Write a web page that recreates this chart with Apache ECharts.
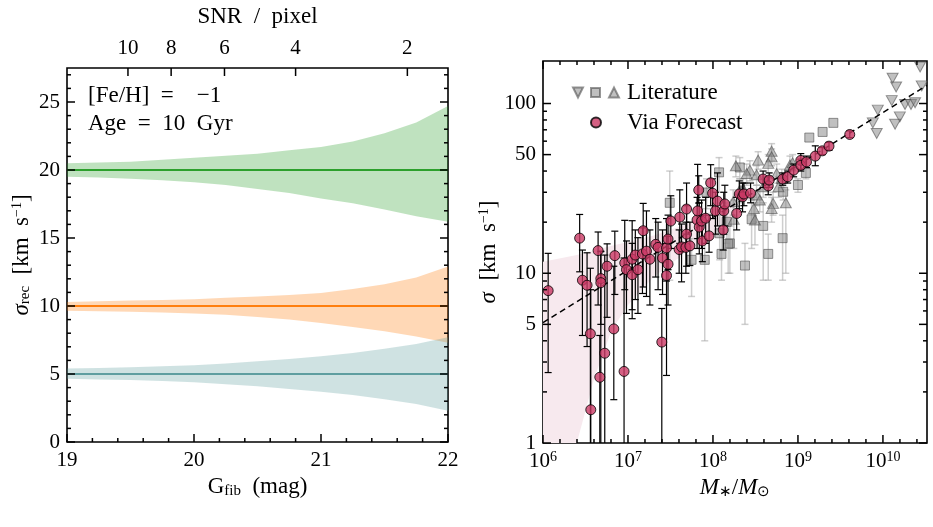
<!DOCTYPE html>
<html>
<head>
<meta charset="utf-8">
<script src="https://cdn.jsdelivr.net/npm/echarts@6/dist/echarts.min.js"></script>
<style>
  html, body { margin: 0; padding: 0; background: #fff; }
  #chart { width: 933px; height: 527px; }
</style>
</head>
<body>
<div id="chart"></div>
<script>
  // ---- left panel: recovered dispersion vs fibre magnitude ----
  var gMag = [19, 19.25, 19.5, 19.75, 20, 20.25, 20.5, 20.75, 21, 21.25, 21.5, 21.75, 22];
  var greenUpper = [20.5, 20.55, 20.6, 20.75, 20.9, 21.05, 21.2, 21.45, 21.7, 22.1, 22.7, 23.5, 24.7];
  var greenLower = [19.5, 19.45, 19.35, 19.25, 19.1, 18.9, 18.6, 18.3, 17.9, 17.55, 17.1, 16.6, 16.2];
  var orangeUpper = [10.3, 10.35, 10.4, 10.45, 10.5, 10.6, 10.7, 10.8, 10.95, 11.25, 11.6, 12.1, 12.9];
  var orangeLower = [9.65, 9.62, 9.58, 9.52, 9.45, 9.35, 9.2, 9.0, 8.75, 8.45, 8.15, 7.75, 7.3];
  var tealUpper = [5.4, 5.45, 5.5, 5.57, 5.65, 5.78, 5.93, 6.1, 6.3, 6.55, 6.85, 7.2, 7.7];
  var tealLower = [4.65, 4.6, 4.55, 4.48, 4.4, 4.25, 4.1, 3.9, 3.7, 3.45, 3.15, 2.8, 2.3];
  var trueSigma = [20, 10, 5];
  var G_MIN = 19, G_MAX = 22, REC_MIN = 0, REC_MAX = 27.5;
  var gTicks = [19, 20, 21, 22];
  var recTicks = [0, 5, 10, 15, 20, 25];
  var snrTicks = [10, 8, 6, 4, 2];
  var snrTickMag = [19.48, 19.82, 20.24, 20.80, 21.68];

  // ---- right panel: sigma vs stellar mass ----
  var massTickExp = [6, 7, 8, 9, 10];
  var sigmaTicks = [1, 5, 10, 50, 100];
  var sigmaMinor = [2, 3, 4, 6, 7, 8, 9, 20, 30, 40, 60, 70, 80, 90];
  var X_MIN = 1e6, X_MAX = 3.3e10, Y_MIN = 1, Y_MAX = 178;

  var fitMass = [1e6, 3.3e10];
  var fitSigma = [5.12, 128];

  var pinkMass = [1e6, 2.5e6, 4e6, 6.4e6, 1e7, 2e7, 5e7, 1e8, 1.7e8];
  var pinkLow = [0.3, 1.0, 2.4, 4.6, 6.5, 9.5, 13.5, 17, 21];
  var pinkHigh = [11.7, 12.8, 13.6, 14.5, 15.3, 16.7, 19.5, 23.5, 26];

  // [mass, sigma, low, high]
  var litDown = [
    [2.74e10, 164, 164, 164], [1.3e10, 141, 141, 141], [1.43e10, 125, 125, 125], [2.86e10, 127, 127, 127],
    [1.27e10, 104, 104, 104], [1.82e10, 98.6, 98.6, 98.6], [2.14e10, 98.6, 98.6, 98.6], [2.39e10, 101, 101, 101],
    [8.7e9, 91.4, 91.4, 91.4], [1.58e10, 83.4, 83.4, 83.4], [1.39e10, 75.5, 75.5, 75.5], [7.6e9, 76.9, 76.9, 76.9],
    [8.45e9, 66.6, 66.6, 66.6]
  ];
  var litSquare = [
    [2.61e9, 76.9, 76.9, 76.9], [1.95e9, 68, 68, 68], [1.36e9, 63, 63, 63], [1.24e9, 39, 36, 42],
    [1.0e9, 33.1, 30, 36], [6.7e8, 30.2, 27, 33], [1.18e8, 39.3, 30, 48], [2.07e8, 42, 36, 48],
    [8.4e7, 29.9, 24, 36], [2.85e8, 20.8, 14, 27], [3.9e8, 19.0, 9.1, 26], [6.6e8, 16.1, 9.1, 22],
    [4.47e8, 13.0, 9.1, 17], [2.38e8, 11.1, 5.0, 15], [1.26e8, 13.0, 9.1, 17], [1.58e8, 15.0, 10, 19],
    [1.2e8, 17.2, 12, 22], [5.6e7, 12.0, 7.3, 16], [8.0e7, 12.0, 4.0, 16], [1.51e8, 14.9, 10, 19],
    [3.1e7, 26, 9.1, 40], [1.45e8, 20.1, 15, 26]
  ];
  var litUp = [
    [4.9e8, 52.4, 46, 58], [4.9e8, 48.5, 43, 54], [3.4e8, 46.4, 41, 52], [4.47e8, 44.4, 39, 50],
    [1.86e8, 43, 37, 49], [2.72e8, 40.5, 35, 46], [2.49e8, 38.7, 33, 44], [3.26e8, 38, 33, 43],
    [5.62e8, 38.7, 34, 44], [6.46e8, 36.2, 32, 41], [8.05e8, 43.4, 38, 49], [3.9e8, 32.3, 28, 37],
    [5.9e8, 32.3, 28, 37], [3.26e8, 28.9, 25, 33], [3.56e8, 27.0, 23, 31], [5.1e8, 25.8, 22, 30],
    [7.2e8, 26, 10, 31], [4.9e8, 24.1, 20, 28], [3.12e8, 20.6, 14.7, 26], [1.73e8, 26.4, 22, 31],
    [2.07e8, 30.9, 26, 36], [8.65e8, 44.8, 40, 50], [2.26e8, 31.6, 27, 36], [3.03e8, 24.1, 20, 28],
    [1.76e8, 20.8, 14, 27]
  ];
  var forecast = [
    [1.15e6, 7.9, 2.6, 13.1], [2.70e6, 16.1, 10.2, 22.2], [2.91e6, 9.1, 4.3, 13.7], [3.30e6, 8.5, 3.7, 13.2],
    [3.61e6, 4.4, 0.5, 10.7], [3.65e6, 1.57, 0.5, 8.0], [4.45e6, 13.6, 6.5, 17.5], [4.66e6, 2.44, 0.5, 4.3],
    [4.79e6, 9.3, 5.0, 13.5], [4.79e6, 8.8, 0.5, 13.4], [5.33e6, 3.38, 0.5, 12.8], [5.68e6, 11.0, 5.5, 14.9],
    [6.81e6, 4.7, 1.8, 11.0], [7.0e6, 12.7, 7.5, 17.7], [8.99e6, 2.64, 0.5, 12.3], [9.16e6, 11.5, 8.0, 20.5],
    [9.6e6, 10.5, 5.8, 15.5], [1.12e7, 12.1, 6.1, 20.4], [1.12e7, 9.8, 5.4, 15.0], [1.22e7, 12.8, 7.0, 18.0],
    [1.31e7, 10.5, 5.8, 16.2], [1.48e7, 13.0, 7.6, 18.5], [1.51e7, 17.8, 8.3, 25.8], [1.65e7, 13.5, 7.3, 23.3],
    [1.81e7, 12.1, 6.5, 18.0], [2.12e7, 14.8, 9.5, 21.0], [2.26e7, 14.2, 8.0, 20.0], [2.5e7, 3.93, 0.5, 6.2],
    [2.55e7, 12.3, 7.5, 18.0], [2.84e7, 14.1, 9.0, 21.0], [2.84e7, 9.7, 2.5, 15.0], [2.96e7, 15.9, 10.5, 22.0],
    [2.96e7, 11.3, 6.5, 16.5], [3.19e7, 20.3, 14.0, 28.6], [4.0e7, 13.8, 10.0, 18.0], [4.07e7, 21.4, 15.0, 31.0],
    [4.27e7, 14.3, 8.9, 19.5], [4.8e7, 14.2, 10.0, 20.0], [4.89e7, 23.9, 17.0, 34.0], [4.89e7, 17.0, 11.0, 25.0],
    [5.35e7, 14.5, 11.1, 20.0], [6.5e7, 20.6, 14.0, 28.0], [6.6e7, 23.3, 16.0, 43.8], [6.8e7, 30.9, 25.9, 37.5],
    [6.9e7, 18.7, 13.0, 26.0], [7.35e7, 20.3, 14.0, 27.0], [7.5e7, 15.5, 11.7, 22.0], [8.2e7, 21.1, 15.0, 28.0],
    [9.0e7, 16.6, 13.3, 22.0], [9.4e7, 34.1, 25.0, 43.6], [9.9e7, 29.6, 21.0, 36.0], [1.07e8, 23.3, 17.0, 30.0],
    [1.13e8, 26.6, 19.0, 39.0], [1.32e8, 18.0, 13.7, 24.0], [1.34e8, 23.3, 17.0, 30.0], [1.38e8, 25.6, 19.0, 33.0],
    [1.9e8, 22.5, 18.0, 28.0], [2.04e8, 29.3, 24.0, 35.0], [2.23e8, 28.2, 23.0, 34.0], [2.31e8, 29.3, 25.0, 34.0],
    [2.77e8, 29.6, 26.0, 34.0], [3.89e8, 35.9, 32.0, 40.0], [4.47e8, 32.7, 29.0, 37.0], [4.59e8, 35.4, 32.0, 39.0],
    [6.6e8, 35.9, 33.0, 39.0], [7.57e8, 37.0, 34.0, 40.0], [8.9e8, 40.5, 37.0, 44.0], [1.08e9, 46.2, 41.0, 50.7],
    [1.08e9, 43.2, 40.0, 47.0], [1.26e9, 45.3, 42.0, 49.0], [1.6e9, 49.0, 43.0, 56.3], [1.93e9, 52.6, 50.0, 55.0],
    [2.32e9, 56.1, 53.0, 59.0], [4.07e9, 65.7, 63.0, 69.0]
  ];

  var FONT = 'Liberation Serif';
  var FS = 21;      // tick numbers
  var FT = 23;      // words: titles, legend, notes
  var richText = {
    i: { fontFamily: FONT, fontSize: FT, fontStyle: 'italic', color: '#000' },
    n: { fontFamily: FONT, fontSize: FT, color: '#000' },
    t: { fontFamily: FONT, fontSize: FS, color: '#000' },
    sub: { fontFamily: FONT, fontSize: 15, verticalAlign: 'bottom', color: '#000', padding: [8, 0, 0, 0] },
    sup: { fontFamily: FONT, fontSize: 14, verticalAlign: 'top', color: '#000', padding: [0, 0, 8, 0] }
  };
  var log10 = function (v) { return Math.log(v) / Math.LN10; };

  // minor tick positions
  var gMinor = [], recMinor = [], massMinor = [], k;
  for (k = 1; k < 15; k++) if (k % 5 !== 0) gMinor.push(Math.round((19 + k * 0.2) * 10) / 10);
  for (k = 1; k <= 27; k++) if (k % 5 !== 0) recMinor.push(k);
  for (k = 1; k <= 22; k++) if (k % 5 !== 0) massMinor.push(Math.pow(10, 6 + k * 0.2));
  var massMajor = massTickExp.map(function (e) { return Math.pow(10, e); });

  var chart = echarts.init(document.getElementById('chart'), null, { renderer: 'canvas' });

  function labelAxis(gi, pos, min, max, labels, margin, formatter) {
    return {
      gridIndex: gi, type: 'value', position: pos, min: min, max: max,
      axisLine: { show: false, onZero: false }, splitLine: { show: false }, axisTick: { show: false },
      axisLabel: {
        show: true, customValues: labels, margin: margin, color: '#000',
        fontFamily: FONT, fontSize: FS, rich: richText,
        formatter: formatter || function (v) { return String(v); }
      }
    };
  }

  // inward tick marks on the frame edges, placed through the axis scales
  function tickMarks(xi, yi, dir, values, ext, len, sides) {
    // ext = [xMin, xMax, yMin, yMax]
    return {
      type: 'custom', xAxisIndex: xi, yAxisIndex: yi, silent: true, z: 9, clip: false,
      data: values.map(function (v) { return dir === 'x' ? [v, ext[2]] : [ext[0], v]; }),
      encode: { x: 0, y: 1 },
      renderItem: function (params, api) {
        var v = dir === 'x' ? api.value(0) : api.value(1);
        var st = { stroke: '#000', lineWidth: 1.5 };
        var ch = [], a, b;
        if (dir === 'x') {
          if (sides.indexOf('bottom') >= 0) {
            a = api.coord([v, ext[2]]);
            ch.push({ type: 'line', shape: { x1: a[0], y1: a[1], x2: a[0], y2: a[1] - len }, style: st });
          }
          if (sides.indexOf('top') >= 0) {
            b = api.coord([v, ext[3]]);
            ch.push({ type: 'line', shape: { x1: b[0], y1: b[1], x2: b[0], y2: b[1] + len }, style: st });
          }
        } else {
          if (sides.indexOf('left') >= 0) {
            a = api.coord([ext[0], v]);
            ch.push({ type: 'line', shape: { x1: a[0], y1: a[1], x2: a[0] + len, y2: a[1] }, style: st });
          }
          if (sides.indexOf('right') >= 0) {
            b = api.coord([ext[1], v]);
            ch.push({ type: 'line', shape: { x1: b[0], y1: b[1], x2: b[0] - len, y2: b[1] }, style: st });
          }
        }
        return { type: 'group', children: ch };
      }
    };
  }

  function bandSeries(xs, lower, upper, color, xi, yi) {
    return {
      type: 'custom', xAxisIndex: xi, yAxisIndex: yi, clip: true, silent: true, z: 1,
      data: xs.map(function (x, i) { return [x, lower[i], upper[i]]; }),
      encode: { x: 0, y: [1, 2] },
      renderItem: function (params, api) {
        if (params.dataIndex !== 0) return null;
        var pts = [], i;
        for (i = 0; i < xs.length; i++) pts.push(api.coord([xs[i], upper[i]]));
        for (i = xs.length - 1; i >= 0; i--) pts.push(api.coord([xs[i], lower[i]]));
        return { type: 'polygon', shape: { points: pts }, style: { fill: color } };
      }
    };
  }

  function errorSeries(rows, color, width, cap, z) {
    return {
      type: 'custom', xAxisIndex: 2, yAxisIndex: 1, clip: true, silent: true, z: z,
      data: rows.filter(function (r) { return r[2] !== r[3]; }),
      encode: { x: 0, y: [1, 2, 3] },
      renderItem: function (params, api) {
        var x = api.value(0);
        var top = api.coord([x, api.value(3)]);
        var bot = api.coord([x, api.value(2)]);
        var st = { stroke: color, lineWidth: width };
        return {
          type: 'group', children: [
            { type: 'line', shape: { x1: top[0], y1: top[1], x2: bot[0], y2: bot[1] }, style: st },
            { type: 'line', shape: { x1: top[0] - cap, y1: top[1], x2: top[0] + cap, y2: top[1] }, style: st },
            { type: 'line', shape: { x1: bot[0] - cap, y1: bot[1], x2: bot[0] + cap, y2: bot[1] }, style: st }
          ]
        };
      }
    };
  }

  var litStyle = { color: 'rgba(135,135,135,0.65)', borderColor: 'rgba(70,70,70,0.7)', borderWidth: 1 };
  var pink = '#c93864';

  var LX0 = log10(X_MIN), LX1 = log10(X_MAX), LY0 = log10(Y_MIN), LY1 = log10(Y_MAX);
  var leftExt = [G_MIN, G_MAX, REC_MIN, REC_MAX];
  var rightExt = [X_MIN, X_MAX, Y_MIN, Y_MAX];
  var nameStyle = { fontFamily: FONT, fontSize: FT, color: '#000', rich: richText };
  function named(ax, name, gap) {
    ax.name = name; ax.nameLocation = 'middle'; ax.nameGap = gap; ax.nameTextStyle = nameStyle;
    return ax;
  }

  var option = {
    animation: false,
    backgroundColor: '#fff',
    textStyle: { fontFamily: FONT },
    grid: [
      { left: 67, top: 61, width: 381, height: 381, show: true, borderColor: '#000', borderWidth: 1.6, backgroundColor: 'transparent' },
      { left: 543, top: 61, width: 384, height: 382, show: true, borderColor: '#000', borderWidth: 1.6, backgroundColor: 'transparent' }
    ],
    legend: {
      left: 567, top: 76, orient: 'vertical', itemGap: 7, itemWidth: 46, itemHeight: 10,
      textStyle: { fontFamily: FONT, fontSize: FT, color: '#000', padding: [0, 0, 0, 3] },
      data: [
        { name: 'Literature', icon: 'path://M0,0L10,0L5,10Z M18,0.5L27,0.5L27,9.5L18,9.5Z M36,10L46,10L41,0Z' },
        { name: 'Via Forecast', icon: 'circle' }
      ]
    },
    xAxis: [
      named(labelAxis(0, 'bottom', G_MIN, G_MAX, gTicks, 8), 'G{sub|fib}\u2002(mag)', 30),
      named(labelAxis(0, 'top', G_MIN, G_MAX, snrTickMag, 9, function (v) {
        var best = 0;
        for (var i = 1; i < snrTickMag.length; i++) {
          if (Math.abs(snrTickMag[i] - v) < Math.abs(snrTickMag[best] - v)) best = i;
        }
        return String(snrTicks[best]);
      }), 'SNR\u2002/\u2002pixel', 40),
      { gridIndex: 1, type: 'log', logBase: 10, min: X_MIN, max: X_MAX, show: false },
      named(labelAxis(1, 'bottom', LX0, LX1, massTickExp, 7, function (v) {
        return '{t|10}{sup|' + Math.round(v) + '}';
      }), '{i|M}{sub|∗}{n|/}{i|M}{sub|⊙}', 32)
    ],
    yAxis: [
      named(labelAxis(0, 'left', REC_MIN, REC_MAX, recTicks, 7), '{i|σ}{sub|rec}\u2002[km\u2002s{sup|−1}]', 34),
      { gridIndex: 1, type: 'log', logBase: 10, min: Y_MIN, max: Y_MAX, show: false },
      named(labelAxis(1, 'left', LY0, LY1, sigmaTicks.map(log10), 7, function (v) {
        return String(Math.round(Math.pow(10, v)));
      }), '{i|σ}\u2002[km\u2002s{sup|−1}]', 42)
    ],
    graphic: [
      { type: 'text', left: 88, top: 84, style: { text: '[Fe/H]\u2002=\u2003−1', font: FT + 'px "' + FONT + '"', fill: '#000' } },
      { type: 'text', left: 88, top: 112, style: { text: 'Age\u2002=\u200210\u2002Gyr', font: FT + 'px "' + FONT + '"', fill: '#000' } }
    ],
    series: [
      bandSeries(gMag, greenLower, greenUpper, 'rgba(44,160,44,0.3)', 0, 0),
      bandSeries(gMag, orangeLower, orangeUpper, 'rgba(255,127,14,0.3)', 0, 0),
      bandSeries(gMag, tealLower, tealUpper, 'rgba(95,158,160,0.3)', 0, 0),
      { type: 'line', xAxisIndex: 0, yAxisIndex: 0, showSymbol: false, silent: true, z: 3,
        data: [[G_MIN, trueSigma[0]], [G_MAX, trueSigma[0]]], lineStyle: { color: '#2ca02c', width: 1.8 } },
      { type: 'line', xAxisIndex: 0, yAxisIndex: 0, showSymbol: false, silent: true, z: 3,
        data: [[G_MIN, trueSigma[1]], [G_MAX, trueSigma[1]]], lineStyle: { color: '#ff7f0e', width: 1.8 } },
      { type: 'line', xAxisIndex: 0, yAxisIndex: 0, showSymbol: false, silent: true, z: 3,
        data: [[G_MIN, trueSigma[2]], [G_MAX, trueSigma[2]]], lineStyle: { color: '#5f9ea0', width: 1.8 } },
      tickMarks(0, 0, 'x', gTicks, leftExt, 8, ['bottom']),
      tickMarks(0, 0, 'x', gMinor, leftExt, 4, ['bottom']),
      tickMarks(0, 0, 'x', snrTickMag, leftExt, 8, ['top']),
      tickMarks(0, 0, 'y', recTicks, leftExt, 8, ['left', 'right']),
      tickMarks(0, 0, 'y', recMinor, leftExt, 4, ['left', 'right']),

      bandSeries(pinkMass, pinkLow, pinkHigh, '#f7e9ee', 2, 1),
      errorSeries(litSquare, 'rgba(165,165,165,0.55)', 1.5, 3.5, 2),
      errorSeries(litUp, 'rgba(165,165,165,0.55)', 1.5, 3.5, 2),
      { name: 'Literature', type: 'scatter', xAxisIndex: 2, yAxisIndex: 1, z: 3,
        symbol: 'triangle', symbolRotate: 180, symbolSize: [11, 10],
        data: litDown.map(function (r) { return [r[0], r[1]]; }), itemStyle: litStyle },
      { name: 'Literature', type: 'scatter', xAxisIndex: 2, yAxisIndex: 1, z: 3,
        symbol: 'rect', symbolSize: 9,
        data: litSquare.map(function (r) { return [r[0], r[1]]; }), itemStyle: litStyle },
      { name: 'Literature', type: 'scatter', xAxisIndex: 2, yAxisIndex: 1, z: 3,
        symbol: 'triangle', symbolSize: [11, 10],
        data: litUp.map(function (r) { return [r[0], r[1]]; }), itemStyle: litStyle },
      { type: 'line', xAxisIndex: 2, yAxisIndex: 1, showSymbol: false, silent: true, z: 4,
        data: fitMass.map(function (m, i) { return [m, fitSigma[i]]; }),
        lineStyle: { color: '#000', width: 1.5, type: [6, 4] } },
      errorSeries(forecast, '#000', 1.2, 3.5, 5),
      { name: 'Via Forecast', type: 'scatter', xAxisIndex: 2, yAxisIndex: 1, z: 6,
        symbol: 'circle', symbolSize: 10,
        data: forecast.map(function (r) { return [r[0], r[1]]; }),
        itemStyle: { color: pink, borderColor: '#000', borderWidth: 1 } },
      tickMarks(2, 1, 'x', massMajor, rightExt, 8, ['bottom', 'top']),
      tickMarks(2, 1, 'x', massMinor, rightExt, 4, ['bottom', 'top']),
      tickMarks(2, 1, 'y', sigmaTicks, rightExt, 8, ['left', 'right']),
      tickMarks(2, 1, 'y', sigmaMinor, rightExt, 4, ['left', 'right'])
    ]
  };
  chart.setOption(option);
</script>
</body>
</html>
